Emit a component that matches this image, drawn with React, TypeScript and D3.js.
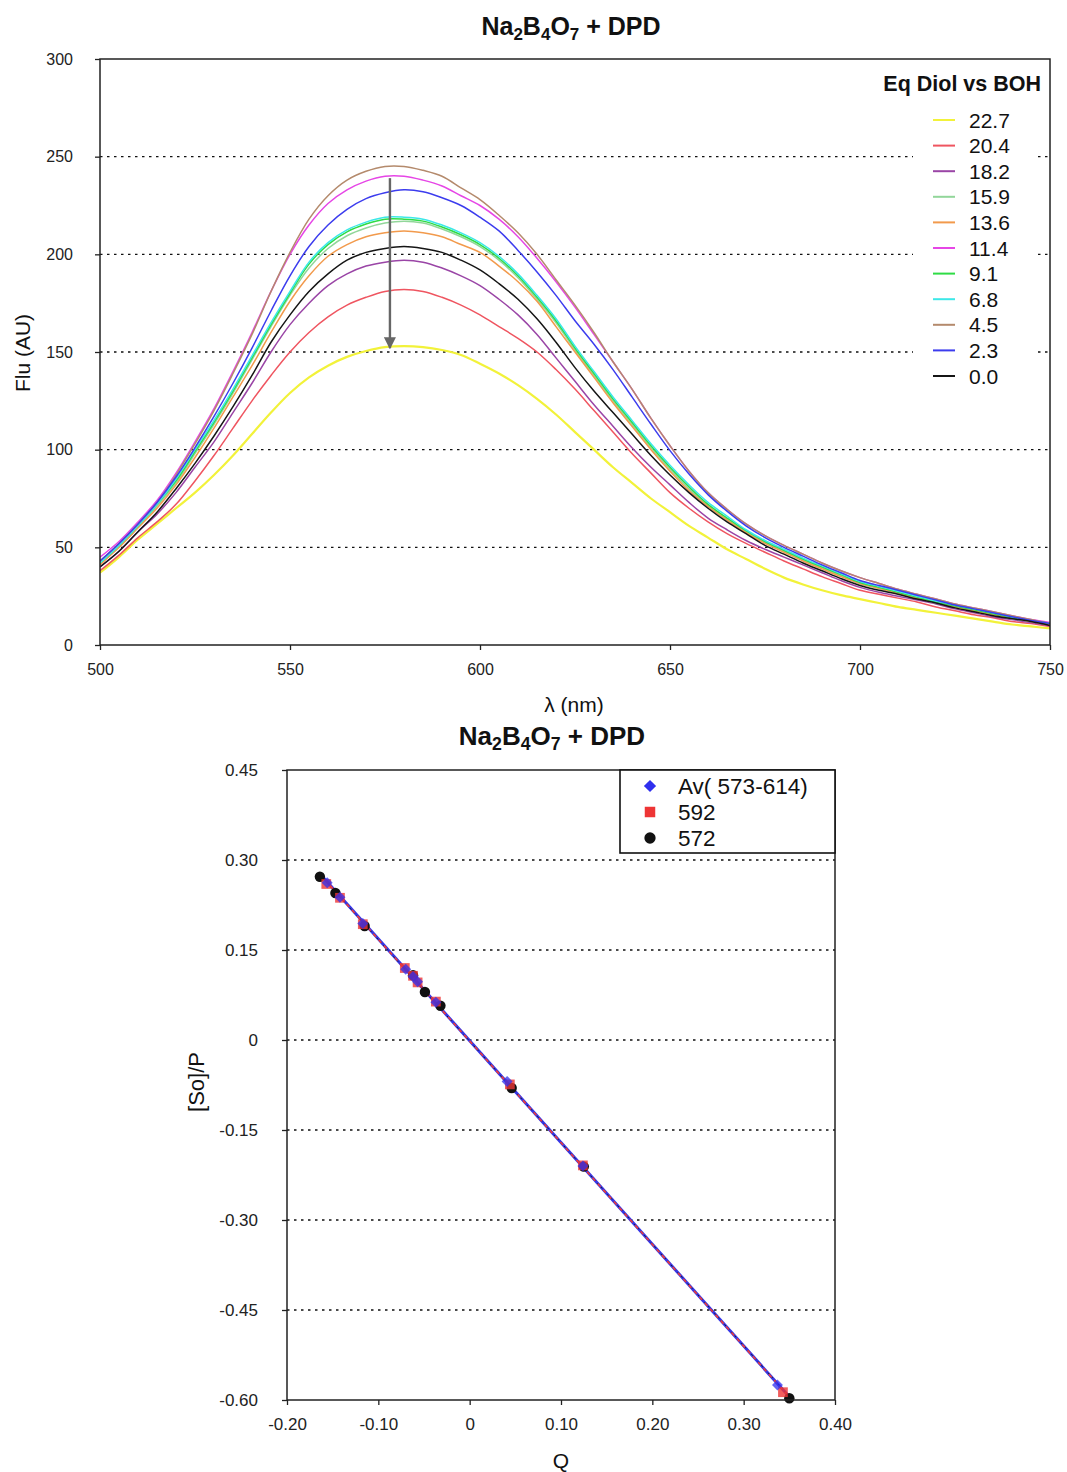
import React, { useEffect, useRef } from 'react';
import * as d3 from 'd3';

const FONT = '"Liberation Sans", Arial, Helvetica, sans-serif';

// wavelength grid (nm) of the emission spectra
const wavelengths = [
  500, 505, 510, 515, 520, 525, 530, 535, 540, 545, 550,
  555, 560, 565, 570, 575, 580, 585, 590, 595, 600,
  605, 610, 615, 620, 625, 630, 635, 640, 645, 650,
  655, 660, 665, 670, 675, 680, 685, 690, 695, 700,
  705, 710, 715, 720, 725, 730, 735, 740, 745, 750,
];

// fluorescence (AU), one array per equivalent of diol
const eq227 = [37, 45, 54, 62, 70, 78, 87, 97, 108, 119, 129, 137, 143, 147.5, 150.5, 152.5, 153, 152.5, 151, 148.5, 144, 139, 133, 126, 118, 109, 100, 91, 83, 75, 68, 61, 55, 49, 44, 39, 34.5, 31, 28, 25.5, 23.5, 21.5, 19.5, 18, 16.5, 15, 13.5, 12, 10.5, 9.5, 8.5];
const eq204 = [38, 46, 55, 63, 72, 84, 97, 111, 125, 138, 150, 160, 168, 174, 178, 181, 182, 181, 178, 174, 169, 163, 157, 150, 141, 131, 120, 109, 98, 88, 78, 70, 63, 57, 52, 47.5, 43, 39, 35, 31.5, 28, 26, 24, 22, 19.5, 17.5, 15.5, 14, 12, 11, 9.5];
const eq182 = [40, 48, 58, 67, 78, 91, 104, 119, 134, 150, 164, 175, 184, 190, 194, 196, 197, 196, 193, 189, 184, 177, 169, 159, 147, 135, 123, 112, 101, 91, 82, 73, 65, 59, 53.5, 49, 45, 41, 37, 33, 29.5, 27, 25, 23, 21, 18.5, 16.5, 14.5, 13, 11.5, 10];
const eq159 = [42, 50, 60, 71, 83, 98, 113, 129, 146, 163, 179, 193, 203, 209.5, 213.5, 216, 217, 216, 213, 209, 204, 197, 188, 177, 165, 151, 138, 125, 113, 101, 90, 80, 71, 64, 58, 52.5, 48, 43.5, 39.5, 35.5, 31.5, 29, 26.5, 24, 21.5, 19.5, 17.5, 15.5, 13.5, 12, 10.5];
const eq136 = [41, 50, 60, 70, 82, 96, 111, 127, 143, 160, 176, 189, 199, 205, 209, 211, 212, 211, 209, 205, 201, 194, 186, 176, 163, 150, 137, 124, 112, 100, 89, 79, 71, 64, 57.5, 52, 47.5, 43, 39, 35, 31.5, 29, 26.5, 24, 22, 19.5, 17.5, 15.5, 14, 12, 10.5];
const eq114 = [45, 53, 63, 74, 88, 104, 121, 140, 160, 181, 200, 215, 226, 233, 237.5, 240, 240, 238, 235, 230, 225, 218, 209, 198, 186, 173, 159, 145, 131, 116, 102, 89, 78, 69.5, 62, 56, 51, 46.5, 42, 38, 34.5, 31.5, 28.5, 26, 23.5, 21, 19, 17, 15, 13, 11.5];
const eq91 = [42, 51, 61, 72, 84, 99, 114, 130, 147, 164, 180, 195, 205, 211.5, 215.5, 218, 218, 217, 214, 210, 205, 198, 189, 178, 166, 152, 139, 126, 114, 102, 91, 81, 72, 65, 58.5, 53, 48.5, 44, 40, 36, 32, 29.5, 27, 24.5, 22, 20, 18, 16, 14, 12.5, 11];
const eq68 = [42, 51, 61, 72, 85, 100, 115, 131, 148, 165, 181, 196, 206, 212.5, 216.5, 219, 219, 218, 215, 211, 206, 199, 190, 179, 167, 153, 140, 127, 115, 103, 92, 82, 73, 66, 59, 53.5, 49, 44.5, 40.5, 36.5, 32.5, 30, 27.5, 25, 22.5, 20.5, 18.5, 16.5, 14.5, 12.5, 11];
const eq45 = [43, 52, 62, 73, 87, 103, 120, 139, 159, 181, 201, 218, 230, 238, 242.5, 245, 245, 243, 240, 234, 228, 220, 211, 200, 187, 174, 160, 145, 131, 116, 102, 89, 78, 69.5, 62, 56, 51, 46.5, 42, 38, 34.5, 31.5, 28.5, 26, 23.5, 21, 19, 17, 15, 13, 11];
const eq23 = [43, 52, 62, 73, 86, 101, 117, 134, 152, 171, 189, 204, 215, 223, 228.5, 231.5, 233, 232, 229, 225, 219, 212, 202, 191, 179, 166, 154, 141, 127, 113, 99.5, 87.5, 77, 68.5, 61, 55, 50, 45.5, 41, 37, 33, 30.5, 28, 25.5, 23, 20.5, 18.5, 16.5, 14.5, 12.5, 11];
const eq00 = [40, 48, 58, 68, 80, 93, 107, 122, 138, 155, 169, 181, 190, 197, 201, 203, 204, 203, 201, 197, 192, 185, 177, 167, 155, 142, 130, 119, 108, 97, 87, 78, 70, 63, 57, 51, 46.5, 42, 38, 34, 30.5, 28, 26, 23.5, 21.5, 19, 17, 15, 13.5, 12, 10];

const eqLabels = ['22.7', '20.4', '18.2', '15.9', '13.6', '11.4', '9.1', '6.8', '4.5', '2.3', '0.0'];
const eqSeries = [eq227, eq204, eq182, eq159, eq136, eq114, eq91, eq68, eq45, eq23, eq00];
const eqColors = ['#f2f23a', '#ef5560', '#9a45a6', '#92d69a', '#f29a4c', '#e646e6', '#2fdc45', '#3ce8e8', '#b48a6c', '#3c3cee', '#151515'];

const specYTicks = [0, 50, 100, 150, 200, 250, 300];
const specXTicks = [500, 550, 600, 650, 700, 750];
const specGrid = [50, 100, 150, 200, 250];

// Stern-Volmer type plot
const avQ = [-0.156, -0.142, -0.117, -0.070, -0.062, -0.057, -0.037, 0.041, 0.124, 0.337];
const avS = [0.262, 0.238, 0.194, 0.118, 0.106, 0.097, 0.063, -0.069, -0.210, -0.575];
const q592 = [-0.157, -0.142, -0.117, -0.071, -0.062, -0.057, -0.037, 0.044, 0.124, 0.343];
const s592 = [0.260, 0.237, 0.193, 0.120, 0.107, 0.096, 0.064, -0.074, -0.209, -0.587];
const q572 = [-0.164, -0.147, -0.115, -0.062, -0.049, -0.032, 0.046, 0.125, 0.350];
const s572 = [0.272, 0.245, 0.190, 0.108, 0.080, 0.057, -0.080, -0.211, -0.597];

const svXTicks = [-0.2, -0.1, 0, 0.1, 0.2, 0.3, 0.4];
const svYTicks = [0.45, 0.3, 0.15, 0, -0.15, -0.3, -0.45, -0.6];
const svGrid = [0.3, 0.15, 0, -0.15, -0.3, -0.45];

const titleParts: [string, boolean][] = [['Na', false], ['2', true], ['B', false], ['4', true], ['O', false], ['7', true], [' + DPD', false]];

const fmt2 = (d: number) => (d === 0 ? '0' : d.toFixed(2));

function chemTitle(g: any, x: number, y: number, size: number) {
  const t = g.append('text').attr('x', x).attr('y', y).attr('text-anchor', 'middle')
    .attr('font-weight', 'bold').attr('font-size', size).attr('fill', '#111');
  let prevSub = false;
  const shift = size * 0.2;
  titleParts.forEach(([s, sub]) => {
    const dy = sub && !prevSub ? shift : !sub && prevSub ? -shift : 0;
    t.append('tspan').attr('dy', dy).attr('font-size', sub ? size * 0.68 : size).text(s);
    prevSub = sub;
  });
}

function styleAxis(a: any, size: number) {
  a.selectAll('path').remove();
  a.selectAll('line').attr('stroke', '#222').attr('stroke-width', 1.3);
  a.selectAll('text').attr('font-family', FONT).attr('font-size', size).attr('fill', '#222');
}

function linFit(xs: number[], ys: number[]) {
  const mx = d3.mean(xs)!, my = d3.mean(ys)!;
  let num = 0, den = 0;
  xs.forEach((v, i) => { num += (v - mx) * (ys[i] - my); den += (v - mx) * (v - mx); });
  const b = num / den;
  return { b, a: my - b * mx };
}

function drawSpectra(svg: any) {
  const m = { left: 100, right: 1050, top: 59, bottom: 645 };
  const x = d3.scaleLinear().domain([500, 750]).range([m.left, m.right]);
  const y = d3.scaleLinear().domain([0, 300]).range([m.bottom, m.top]);
  const g = svg.append('g').attr('font-family', FONT);

  g.selectAll('line.grid').data(specGrid).enter().append('line')
    .attr('x1', m.left).attr('x2', m.right)
    .attr('y1', (d: number) => y(d)).attr('y2', (d: number) => y(d))
    .attr('stroke', '#111').attr('stroke-width', 1.4).attr('stroke-dasharray', '2.5,4.5');

  svg.append('defs').append('clipPath').attr('id', 'specClip')
    .append('rect').attr('x', m.left).attr('y', m.top)
    .attr('width', m.right - m.left).attr('height', m.bottom - m.top);

  const line = d3.line<number>()
    .x((_, i) => x(wavelengths[i]))
    .y(d => y(d))
    .curve(d3.curveCatmullRom.alpha(0.5));

  g.append('g').attr('clip-path', 'url(#specClip)')
    .selectAll('path').data(eqSeries).enter().append('path')
    .attr('d', (d: number[]) => line(d))
    .attr('fill', 'none')
    .attr('stroke', (_: any, i: number) => eqColors[i])
    .attr('stroke-width', (_: any, i: number) => (i === 0 ? 2.2 : 1.5));

  // arrow showing decrease with added diol
  const defs = svg.select('defs');
  defs.append('marker').attr('id', 'arrowHead').attr('viewBox', '0 0 10 10')
    .attr('refX', 9).attr('refY', 5).attr('markerWidth', 5).attr('markerHeight', 5)
    .attr('orient', 'auto').attr('markerUnits', 'strokeWidth')
    .append('path').attr('d', 'M0,0 L10,5 L0,10 z').attr('fill', '#666');
  g.append('line')
    .attr('x1', x(576.3)).attr('x2', x(576.3))
    .attr('y1', y(239)).attr('y2', y(152))
    .attr('stroke', '#666').attr('stroke-width', 2.4)
    .attr('marker-end', 'url(#arrowHead)');

  // legend
  const lg = g.append('g');
  lg.append('rect').attr('x', 913).attr('y', 66).attr('width', 125).attr('height', 326).attr('fill', '#fff');
  lg.append('text').attr('x', 1041).attr('y', 91).attr('text-anchor', 'end')
    .attr('font-weight', 'bold').attr('font-size', 21.5).attr('fill', '#111').text('Eq Diol vs BOH');
  eqLabels.forEach((lab, i) => {
    const cy = 120 + i * 25.6;
    lg.append('line').attr('x1', 933).attr('x2', 955).attr('y1', cy).attr('y2', cy)
      .attr('stroke', eqColors[i]).attr('stroke-width', 2);
    lg.append('text').attr('x', 969).attr('y', cy + 7.5).attr('font-size', 21).attr('fill', '#111').text(lab);
  });

  // frame and axes
  g.append('rect').attr('x', m.left).attr('y', m.top)
    .attr('width', m.right - m.left).attr('height', m.bottom - m.top)
    .attr('fill', 'none').attr('stroke', '#222').attr('stroke-width', 1.5);

  const ax = g.append('g').attr('transform', `translate(0,${m.bottom})`)
    .call(d3.axisBottom(x).tickValues(specXTicks).tickSize(5).tickPadding(14).tickFormat(d3.format('d')));
  styleAxis(ax, 16);
  const ay = g.append('g').attr('transform', `translate(${m.left},0)`)
    .call(d3.axisLeft(y).tickValues(specYTicks).tickSize(5).tickPadding(22).tickFormat(d3.format('d')));
  styleAxis(ay, 16);

  g.append('text').attr('x', 574).attr('y', 712).attr('text-anchor', 'middle')
    .attr('font-size', 21).attr('fill', '#111').text('λ (nm)');
  g.append('text').attr('transform', 'translate(30,353) rotate(-90)').attr('text-anchor', 'middle')
    .attr('font-size', 21).attr('fill', '#111').text('Flu (AU)');

  chemTitle(g, 571, 35, 25);
}

function drawStern(svg: any) {
  const m = { left: 287, right: 835, top: 770, bottom: 1400 };
  const x = d3.scaleLinear().domain([-0.2, 0.4]).range([m.left, m.right]);
  const y = d3.scaleLinear().domain([-0.6, 0.45]).range([m.bottom, m.top]);
  const g = svg.append('g').attr('font-family', FONT);

  g.selectAll('line.grid').data(svGrid).enter().append('line')
    .attr('x1', m.left).attr('x2', m.right)
    .attr('y1', (d: number) => y(d)).attr('y2', (d: number) => y(d))
    .attr('stroke', '#111').attr('stroke-width', 1.4).attr('stroke-dasharray', '2.5,4.5');

  const allQ = [...avQ, ...q592, ...q572];
  const qExt = d3.extent(allQ) as [number, number];
  const fitAv = linFit(avQ, avS);
  const fit592 = linFit(q592, s592);
  const fit572 = linFit(q572, s572);
  g.append('line')
    .attr('x1', x(qExt[0])).attr('y1', y(fitAv.a + fitAv.b * qExt[0]))
    .attr('x2', x(qExt[1])).attr('y2', y(fitAv.a + fitAv.b * qExt[1]))
    .attr('stroke', '#3535e6').attr('stroke-width', 3);
  g.append('line')
    .attr('x1', x(qExt[0])).attr('y1', y(fit572.a + fit572.b * qExt[0]))
    .attr('x2', x(qExt[1])).attr('y2', y(fit572.a + fit572.b * qExt[1]))
    .attr('stroke', '#222').attr('stroke-width', 1).attr('stroke-dasharray', '2,3');
  g.append('line')
    .attr('x1', x(qExt[0])).attr('y1', y(fit592.a + fit592.b * qExt[0]))
    .attr('x2', x(qExt[1])).attr('y2', y(fit592.a + fit592.b * qExt[1]))
    .attr('stroke', '#ee3b3b').attr('stroke-width', 1.6).attr('stroke-dasharray', '4,4');

  const sym = (type: any, size: number) => d3.symbol().type(type).size(size)();

  g.selectAll('path.p572').data(q572).enter().append('path')
    .attr('transform', (d: number, i: number) => `translate(${x(d)},${y(s572[i])})`)
    .attr('d', sym(d3.symbolCircle, 85)).attr('fill', '#111');
  g.selectAll('path.p592').data(q592).enter().append('path')
    .attr('transform', (d: number, i: number) => `translate(${x(d)},${y(s592[i])})`)
    .attr('d', sym(d3.symbolSquare, 95)).attr('fill', '#ee3535').attr('fill-opacity', 0.8);
  g.selectAll('path.pav').data(avQ).enter().append('path')
    .attr('transform', (d: number, i: number) => `translate(${x(d)},${y(avS[i])}) rotate(45)`)
    .attr('d', sym(d3.symbolSquare, 60)).attr('fill', '#2f2fee').attr('fill-opacity', 0.75);

  g.append('rect').attr('x', m.left).attr('y', m.top)
    .attr('width', m.right - m.left).attr('height', m.bottom - m.top)
    .attr('fill', 'none').attr('stroke', '#222').attr('stroke-width', 1.5);

  const ax = g.append('g').attr('transform', `translate(0,${m.bottom})`)
    .call(d3.axisBottom(x).tickValues(svXTicks).tickSize(5).tickPadding(13).tickFormat(fmt2 as any));
  styleAxis(ax, 17);
  const ay = g.append('g').attr('transform', `translate(${m.left},0)`)
    .call(d3.axisLeft(y).tickValues(svYTicks).tickSize(5).tickPadding(24).tickFormat(fmt2 as any));
  styleAxis(ay, 17);

  // legend
  const lg = g.append('g');
  lg.append('rect').attr('x', 620).attr('y', 770).attr('width', 215).attr('height', 83)
    .attr('fill', '#fff').attr('stroke', '#111').attr('stroke-width', 1.6);
  const legItems = [
    { label: 'Av( 573-614)', type: d3.symbolSquare, color: '#2f2fee', size: 75, rot: 45 },
    { label: '592', type: d3.symbolSquare, color: '#ee3535', size: 110, rot: 0 },
    { label: '572', type: d3.symbolCircle, color: '#111', size: 100, rot: 0 },
  ];
  legItems.forEach((it, i) => {
    const cy = 786 + i * 26;
    lg.append('path').attr('transform', `translate(650,${cy}) rotate(${it.rot})`).attr('d', sym(it.type, it.size)).attr('fill', it.color);
    lg.append('text').attr('x', 678).attr('y', cy + 8).attr('font-size', 22.5).attr('fill', '#111').text(it.label);
  });

  g.append('text').attr('x', 561).attr('y', 1468).attr('text-anchor', 'middle')
    .attr('font-size', 21).attr('fill', '#111').text('Q');
  g.append('text').attr('transform', 'translate(204,1082) rotate(-90)').attr('text-anchor', 'middle')
    .attr('font-size', 22).attr('fill', '#111').text('[So]/P');

  chemTitle(g, 552, 745, 26);
}

export default function App() {
  const ref = useRef<SVGSVGElement>(null);

  useEffect(() => {
    document.body.style.margin = '0';
    const svg = d3.select(ref.current);
    svg.selectAll('*').remove();
    svg.append('rect').attr('width', 1067).attr('height', 1472).attr('fill', '#fff');
    drawSpectra(svg);
    drawStern(svg);
  }, []);

  return <svg ref={ref} width={1067} height={1472} style={{ display: 'block' }} />;
}
